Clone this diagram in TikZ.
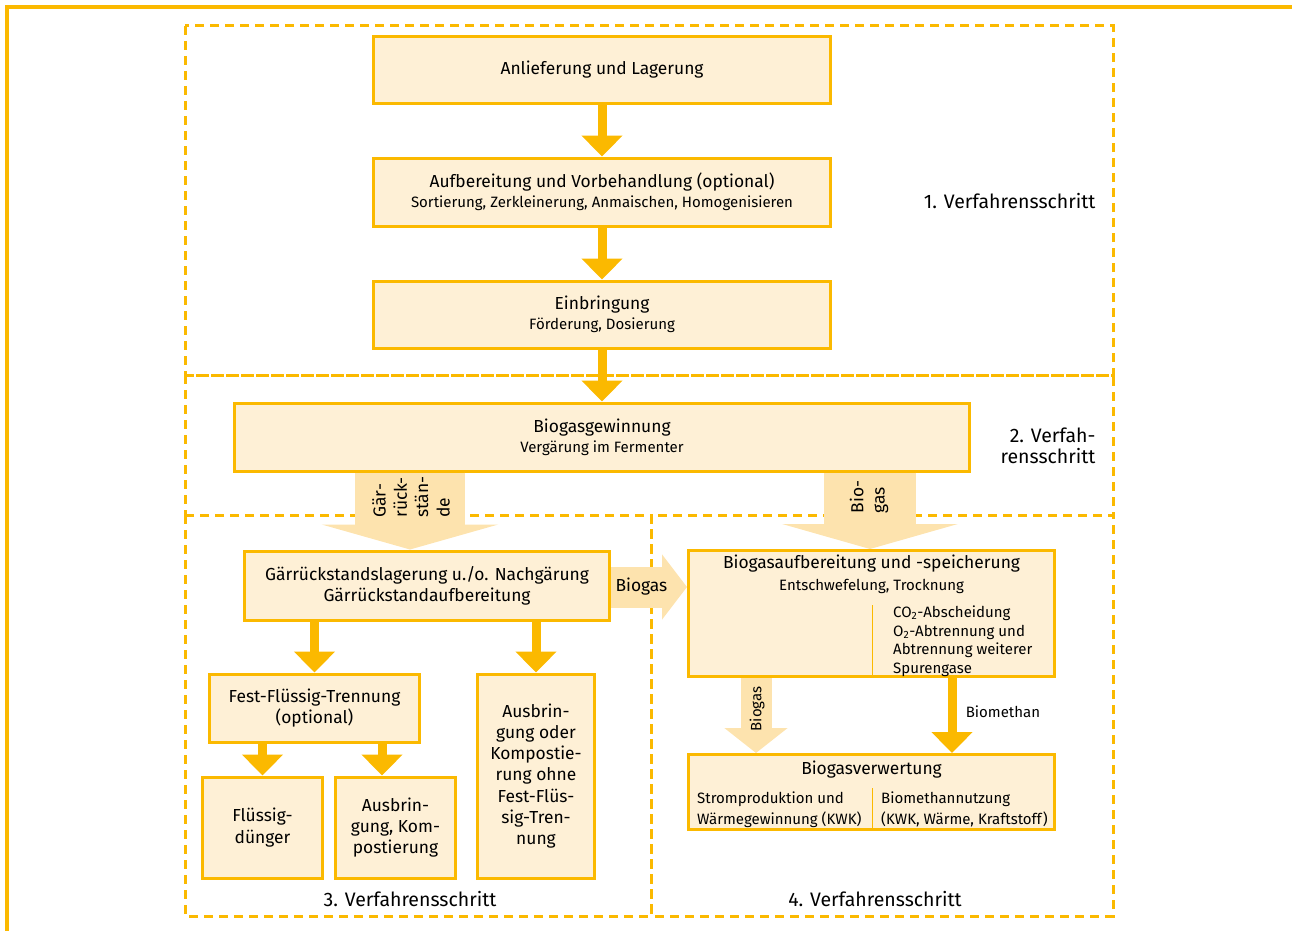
\documentclass[tikz,border=0pt]{standalone}
\usepackage{fontspec}
\setmainfont{Fira Sans}
\usepackage{tikz}
\usetikzlibrary{arrows.meta, positioning, calc}

\definecolor{orng}{HTML}{FBB900}
\definecolor{boxfill}{HTML}{FEF0D6}
\definecolor{lightarr}{HTML}{FDE3AE}

\newcommand{\mainsz}{\fontsize{17.4}{21.3}\selectfont}
\newcommand{\subsz}{\fontsize{15}{21.3}\selectfont}
\newcommand{\stepsz}{\fontsize{19.5}{21.3}\selectfont}

\begin{document}
\begin{tikzpicture}[
  x=1pt, y=-1pt,
  box/.style={rectangle, draw=orng, fill=boxfill, line width=3pt, align=center, inner sep=2pt, font=\mainsz},
  frame/.style={draw=orng, line width=3pt, dash pattern=on 9pt off 6pt},
  flow/.style={draw=orng, line width=9pt, -{Triangle[width=40pt, length=21pt]}},
  gasflow/.style={draw=lightarr, -{Triangle[width=#1, length=25pt]}},
  steplabel/.style={font=\stepsz, align=right}
]
  \useasboundingbox (0,0) rectangle (1292,931);

  % outer frame
  \draw[orng, line width=3.5pt] (1292,7) -- (7,7) -- (7,931);

  % step frames
  \draw[frame] (185,26) rectangle (1113,375);
  \draw[frame] (185,375) -- (1113,375) -- (1113,515);
  \draw[frame] (185,375) -- (185,515);
  \draw[frame] (185,515) rectangle (651,916);
  \draw[frame] (651,515) rectangle (1113,916);

  % step 1
  \node[box, minimum width=457pt, minimum height=67pt] (anl) at (602,70) {Anlieferung und Lagerung};
  \node[box, minimum width=457pt, minimum height=68pt] (aufb) at (602,192)
    {Aufbereitung und Vorbehandlung (optional)\\[-1pt]{\subsz Sortierung, Zerkleinerung, Anmaischen, Homogenisieren}};
  \node[box, minimum width=457pt, minimum height=67pt] (einb) at (602,314.5)
    {Einbringung\\[-1pt]{\subsz Förderung, Dosierung}};

  % step 2
  \node[box, minimum width=735pt, minimum height=68pt] (gew) at (602,437)
    {Biogasgewinnung\\[-1pt]{\subsz Vergärung im Fermenter}};

  % step 3
  \node[box, minimum width=365pt, minimum height=69pt] (lager) at (427,585.5)
    {Gärrückstandslagerung u./o. Nachgärung\\Gärrückstandaufbereitung};
  \node[box, minimum width=210pt, minimum height=68pt] (fft) at (314.5,708)
    {Fest-Flüssig-Trennung\\(optional)};
  \node[box, minimum width=117pt, minimum height=204pt] (ohnefft) at (536,776)
    {Ausbrin-\\gung oder\\Kompostie-\\rung ohne\\Fest-Flüs-\\sig-Tren-\\nung};
  \node[box, minimum width=120pt, minimum height=101pt] (duenger) at (262.5,827.5)
    {Flüssig-\\dünger};
  \node[box, minimum width=120pt, minimum height=101pt] (kompost) at (395.5,827.5)
    {Ausbrin-\\gung, Kom-\\postierung};

  % step 4
  \node[box, minimum width=366pt, minimum height=126pt] (gasauf) at (871.5,613.5) {};
  \node[font=\mainsz] (gasauft) at (871.5,564) {Biogasaufbereitung und -speicherung};
  \node[font=\subsz] (gasaufs) at (871.5,586) {Entschwefelung, Trocknung};
  \draw[orng, line width=1pt] (872,605) -- (gasauf.south -| 872,0);
  \node[font=\subsz, align=left, anchor=north west, inner sep=0pt] (gasaufr) at (893,605.5)
    {CO\textsubscript{2}-Abscheidung\\[-2.6pt]O\textsubscript{2}-Abtrennung und\\[-2.6pt]Abtrennung weiterer\\[-2.6pt]Spurengase};

  \node[box, minimum width=366pt, minimum height=75pt] (verw) at (871.5,792) {};
  \node[font=\mainsz] (verwt) at (871.5,769.5) {Biogasverwertung};
  \draw[orng, line width=1pt] (872,788) -- (verw.south -| 872,0);
  \node[font=\subsz, align=left, anchor=north west, inner sep=0pt] (verwl) at (697,791.5)
    {Stromproduktion und\\Wärmegewinnung (KWK)};
  \node[font=\subsz, align=left, anchor=north west, inner sep=0pt] (verwr) at (881,791.5)
    {Biomethannutzung\\(KWK, Wärme, Kraftstoff)};

  % solid arrows
  \draw[flow] (anl) -- (aufb);
  \draw[flow] (aufb) -- (einb);
  \draw[flow] (einb) -- (gew);
  \draw[flow] (lager.south -| fft.north) -- (fft.north);
  \draw[flow] (lager.south -| ohnefft.north) -- (ohnefft.north);
  \draw[flow] (fft.south -| duenger.north) -- (duenger.north);
  \draw[flow] (fft.south -| 382,0) -- ([xshift=-13.5pt]kompost.north);
  \draw[flow] (gasauf.south -| 952,0) -- (verw.north -| 952,0)
    node[pos=0.45, right=6pt, font=\subsz] (methlbl) {Biomethan};

  % light arrows
  \draw[gasflow=176pt, line width=110pt] (gew.south -| 410,0) -- (lager.north -| 410,0);
  \node[rotate=90, align=left, font=\mainsz, inner sep=0pt] (gaerlbl) at (411,497)
    {Gär-\\rück-\\stän-\\de};
  \draw[gasflow=175pt, line width=92pt] (gew.south -| 870,0) -- (gasauf.north -| 870,0);
  \node[rotate=90, align=left, font=\mainsz, inner sep=0pt] (gaslbl) at (869,497)
    {Bio-\\gas};
  \draw[gasflow=64pt, line width=41pt] (lager.east |- 0,587) -- (gasauf.west |- 0,587)
    node[pos=0.4, font=\mainsz, text=black] (gaslblh) {Biogas};
  \draw[gasflow=62pt, line width=31pt] (gasauf.south -| 756,0) -- (verw.north -| 756,0);
  \node[rotate=90, font=\subsz, inner sep=0pt] (gaslblv) at (757,709) {Biogas};

  % step labels
  \node[steplabel, anchor=east] (s1) at (1099,201) {1. Verfahrensschritt};
  \node[steplabel, anchor=east] (s2) at (1099,446) {2. Verfah-\\rensschritt};
  \node[steplabel] (s3) at (410,899) {3. Verfahrensschritt};
  \node[steplabel] (s4) at (875,899) {4. Verfahrensschritt};
\end{tikzpicture}
\end{document}
